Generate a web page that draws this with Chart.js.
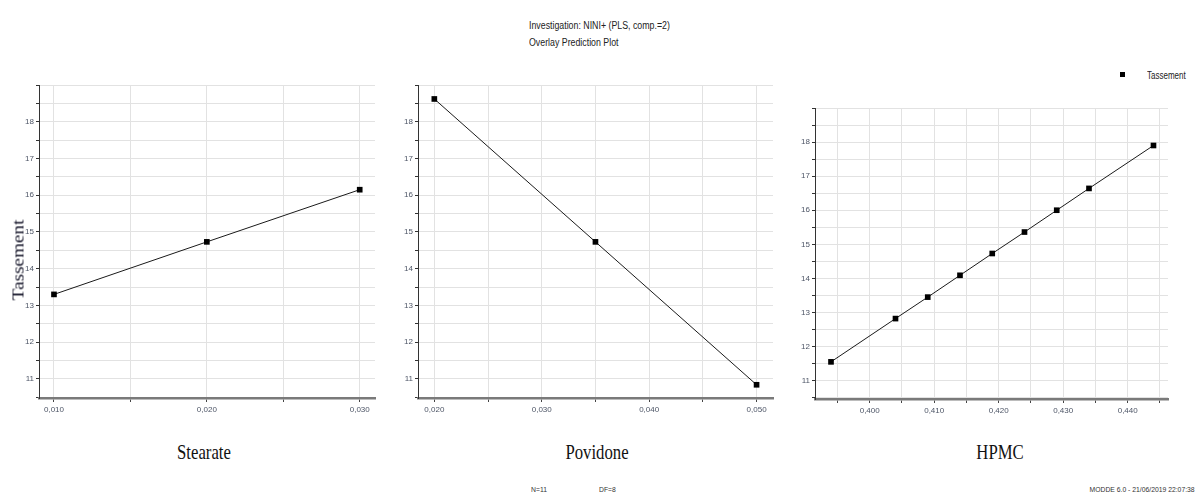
<!DOCTYPE html>
<html lang="fr">
<head>
<meta charset="UTF-8">
<title>Overlay Prediction Plot</title>
<script src="https://cdn.jsdelivr.net/npm/chart.js"></script>
<style>
  body { margin: 0; background: #fff; width: 1196px; height: 496px; position: relative; overflow: hidden;
         font-family: 'Liberation Sans Narrow', 'Liberation Sans', Arial, sans-serif; }
  canvas { position: absolute; }
  .txt { position: absolute; white-space: nowrap; color: #111; line-height: 1; }
  .head { font-size: 10px; left: 529px; color: #222; transform: scaleX(0.88); transform-origin: left center; }
  .foot { font-size: 8px; top: 486px; color: #333; transform: scaleX(0.85); }
  .xtitle { font-family: 'Liberation Serif', 'Times New Roman', serif; font-size: 22px; top: 441px;
            transform: translateX(-50%) scaleX(0.76); }
  .ytitle { font-family: 'Liberation Serif', 'Times New Roman', serif; font-size: 17px; left: 18px; top: 260px;
            transform: translate(-50%, -50%) rotate(-90deg) scaleX(1.13); color: #141428; }
  .mark { position: absolute; left: 1120px; top: 72px; width: 5px; height: 5px; background: #000; }
</style>
</head>
<body>
  <div class="txt head" style="top:21px">Investigation: NINI+ (PLS, comp.=2)</div>
  <div class="txt head" style="top:38px">Overlay Prediction Plot</div>

  <div class="mark"></div>
  <div class="txt" style="left:1147px; top:71px; font-size:10px; color:#222; transform:scaleX(0.8); transform-origin:left center">Tassement</div>

  <canvas id="stearate" width="380" height="351" style="left:0; top:77px"></canvas>
  <canvas id="povidone" width="400" height="351" style="left:380px; top:77px"></canvas>
  <canvas id="hpmc" width="400" height="329" style="left:780px; top:100px"></canvas>

  <div class="txt ytitle">Tassement</div>
  <div class="txt xtitle" style="left:204px">Stearate</div>
  <div class="txt xtitle" style="left:597px">Povidone</div>
  <div class="txt xtitle" style="left:1000px">HPMC</div>

  <div class="txt foot" style="left:531px; transform-origin:left center">N=11</div>
  <div class="txt foot" style="left:599px; transform-origin:left center">DF=8</div>
  <div class="txt foot" style="right:1px; transform-origin:right center">MODDE 6.0 - 21/06/2019 22:07:38</div>

<script>
// values
const stearateX = [0.010, 0.020, 0.030];
const stearateY = [13.30, 14.73, 16.15];

const povidoneX = [0.020, 0.035, 0.050];
const povidoneY = [18.62, 14.73, 10.84];

const hpmcX = [0.394, 0.404, 0.409, 0.414, 0.419, 0.424, 0.429, 0.434, 0.444];
const hpmcY = [11.55, 12.82, 13.45, 14.09, 14.73, 15.36, 16.00, 16.64, 17.90];

// labelled ticks
const yTickLabels = [11, 12, 13, 14, 15, 16, 17, 18];
const stearateTicks = [0.010, 0.020, 0.030];
const povidoneTicks = [0.020, 0.030, 0.040, 0.050];
const hpmcTicks = [0.400, 0.410, 0.420, 0.430, 0.440];

const tickFont = { family: "'Liberation Sans Narrow', 'Liberation Sans', Arial, sans-serif", size: 8 };

// keep only ticks that sit on the grid step
function keepStep(step) {
  return axis => {
    axis.ticks = axis.ticks.filter(t => Math.abs(t.value / step - Math.round(t.value / step)) < 1e-6);
  };
}

function has(list, v) {
  return list.some(l => Math.abs(l - v) < 1e-9);
}

function panel(id, xs, ys, xLabels, xMin, xMax, yMin, yMax, yWidth, padRight) {
  new Chart(document.getElementById(id), {
    type: 'scatter',
    data: {
      datasets: [{
        label: 'Tassement',
        data: xs.map((x, i) => ({ x: x, y: ys[i] })),
        showLine: true,
        borderColor: '#1a1a1a',
        borderWidth: 1,
        backgroundColor: '#000',
        pointStyle: 'rect',
        pointRadius: 4,
        pointBorderWidth: 0
      }]
    },
    options: {
      responsive: false,
      animation: false,
      layout: { padding: { top: 8, right: padRight, left: 0, bottom: 0 } },
      plugins: { legend: { display: false }, tooltip: { enabled: false } },
      scales: {
        x: {
          type: 'linear',
          min: xMin,
          max: xMax,
          afterBuildTicks: keepStep(0.005),
          afterFit: axis => { axis.height = 30; },
          grid: { color: '#e2e2e2', tickColor: '#444', tickLength: 4 },
          border: { color: '#7a7a7a', width: 2.5 },
          ticks: {
            stepSize: 0.005,
            includeBounds: false,
            autoSkip: false,
            maxRotation: 0,
            padding: 3,
            color: '#4d5566',
            font: tickFont,
            callback: v => has(xLabels, v) ? v.toFixed(3).replace('.', ',') : ''
          }
        },
        y: {
          min: yMin,
          max: yMax,
          afterBuildTicks: keepStep(0.5),
          afterFit: axis => { axis.width = yWidth; },
          grid: { color: '#e2e2e2', tickColor: '#333', tickLength: 3 },
          border: { color: '#333', width: 1 },
          ticks: {
            stepSize: 0.5,
            includeBounds: false,
            autoSkip: false,
            padding: 2,
            color: '#4d5566',
            font: tickFont,
            callback: v => has(yTickLabels, v) ? String(v) : ''
          }
        }
      }
    }
  });
}

panel('stearate', stearateX, stearateY, stearateTicks, 0.00902, 0.0310, 10.48, 19, 39, 5);
panel('povidone', povidoneX, povidoneY, povidoneTicks, 0.01848, 0.05153, 10.48, 19, 38, 7);
panel('hpmc', hpmcX, hpmcY, hpmcTicks, 0.39152, 0.44625, 10.46, 19, 35, 12);
</script>
</body>
</html>
